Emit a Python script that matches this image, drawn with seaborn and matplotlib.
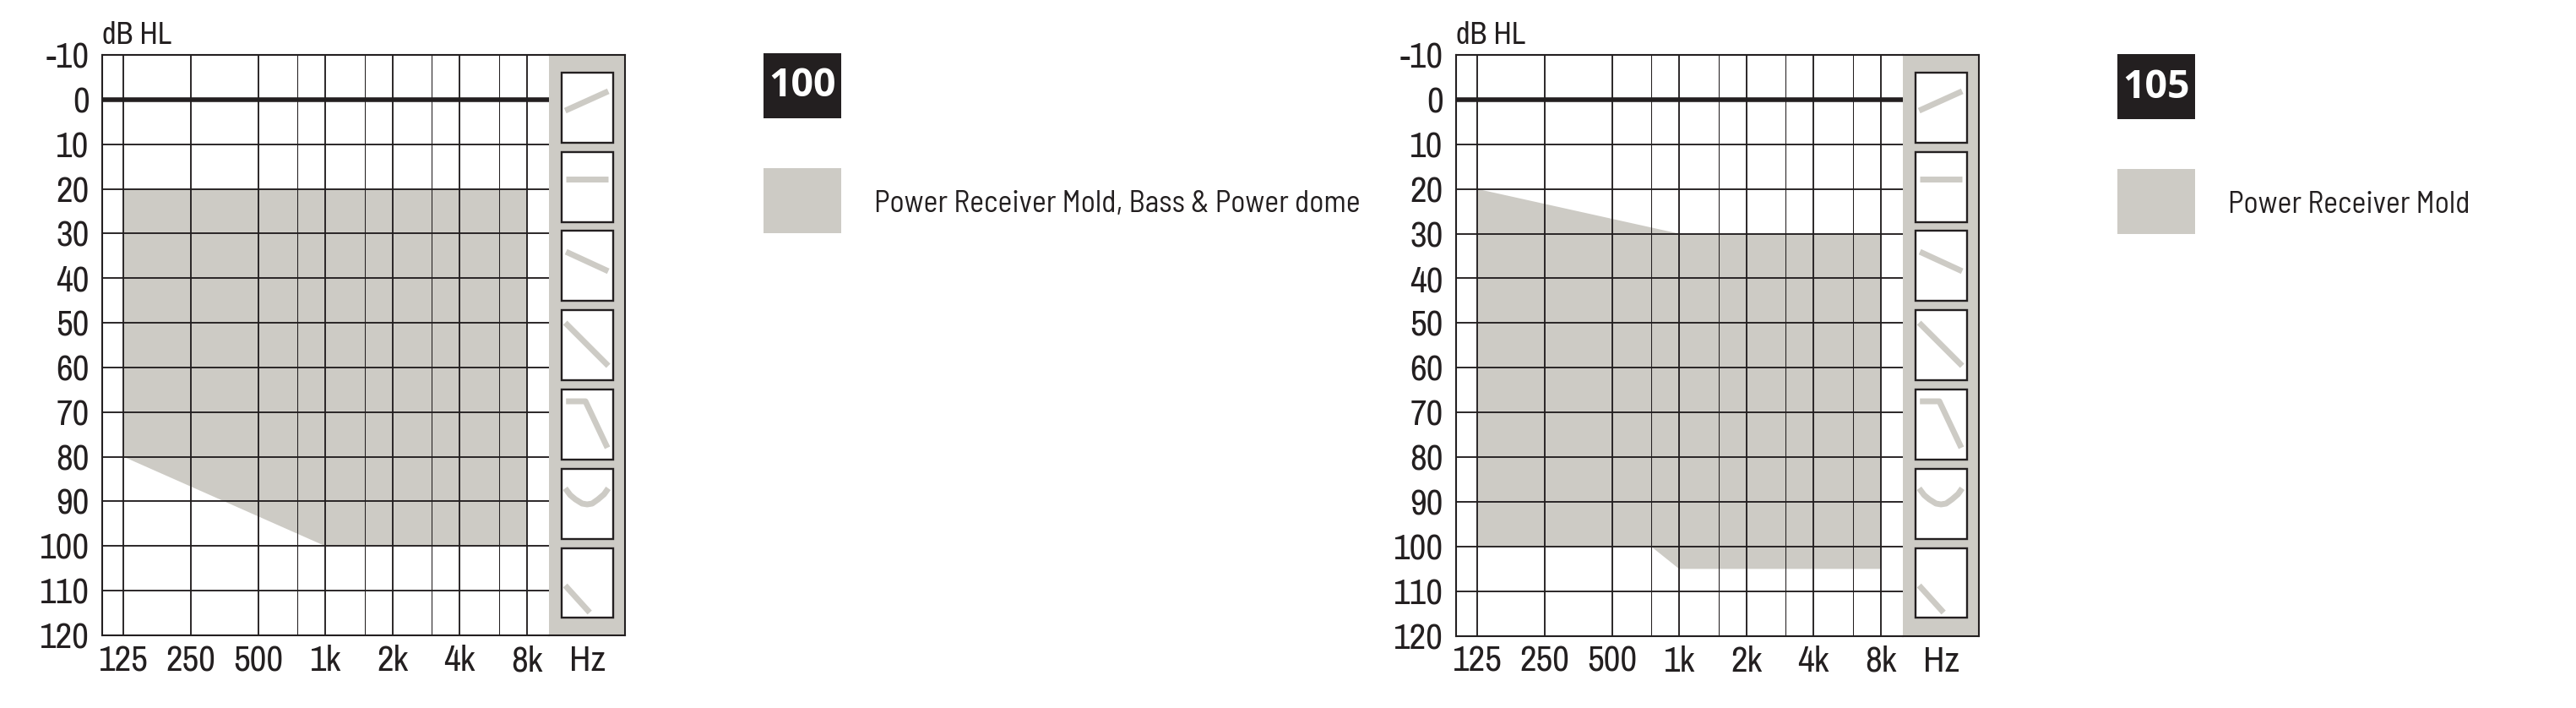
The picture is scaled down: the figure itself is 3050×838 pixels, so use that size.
import matplotlib
matplotlib.use("Agg")
import matplotlib.pyplot as plt
from matplotlib.patches import Rectangle
from matplotlib.ticker import NullFormatter
import pandas as pd
import seaborn as sns

W, H = 3050, 838
INK = "#231f20"
GREY = "#cdcbc5"

# ---- data ----
db_ticks = [-10, 0, 10, 20, 30, 40, 50, 60, 70, 80, 90, 100, 110, 120]
octave_freqs = [125, 250, 500, 1000, 2000, 4000, 8000]
octave_labels = ["125", "250", "500", "1k", "2k", "4k", "8k"]
interoctave_freqs = [750, 1500, 3000, 6000]

upper_freq_100 = [125, 1000, 8000]
upper_db_100 = [20, 20, 20]
lower_freq_100 = [125, 1000, 8000]
lower_db_100 = [80, 100, 100]

upper_freq_105 = [125, 1000, 8000]
upper_db_105 = [20, 30, 30]
lower_freq_105 = [125, 750, 1000, 8000]
lower_db_105 = [100, 100, 105, 105]

badge_100 = "100"
badge_105 = "105"
legend_100 = "Power Receiver Mold, Bass & Power dome"
legend_105 = "Power Receiver Mold"

# audiogram-shape icons, in pixels from the top-left of the side strip
icon_boxes = [(21, 104), (115, 198), (208, 291), (302, 385), (396, 479), (490, 573), (584, 666)]
icon_x = [
    [19, 70], [20, 70], [20, 70], [19, 70], [20, 43, 69],
    [19, 25, 31, 39, 45, 51, 58, 65, 70], [19, 48],
]
icon_y = [
    [66, 43], [147, 147], [233, 256], [317, 368], [410, 410, 465],
    [513, 521, 526, 531, 532, 531, 526, 520, 513], [628, 660],
]

sns.set_theme(style="white")
NARROW = ["Archivo Narrow", "Roboto Condensed", "Liberation Sans", "DejaVu Sans"]
KEYFONT = ["Barlow Semi Condensed", "Open Sans", "DejaVu Sans"]
BADGEFONT = ["Open Sans", "DejaVu Sans"]

fig = plt.figure(figsize=(W / 100, H / 100), dpi=100, facecolor="white")


def px_axes(x0, x1, y0, y1, **kw):
    return fig.add_axes([x0 / W, 1 - y1 / H, (x1 - x0) / W, (y1 - y0) / H], **kw)


def audiogram(left, right, strip_right, top, bottom, p125, p8k,
              up_f, up_db, lo_f, lo_db):
    ax = px_axes(left, right, top, bottom)
    per_oct = (p8k - p125) / 6
    ax.set_xscale("log", base=2)
    ax.set_xlim(125 * 2 ** (-(p125 - left) / per_oct), 8000 * 2 ** ((right - p8k) / per_oct))
    ax.set_ylim(120, -10)
    ax.set_yticks(db_ticks)
    ax.set_yticklabels([str(d) for d in db_ticks], family=NARROW, fontsize=31, color=INK)
    ax.set_xticks(octave_freqs)
    ax.set_xticklabels(octave_labels, family=NARROW, fontsize=31, color=INK)
    ax.set_xticks(interoctave_freqs, minor=True)
    ax.xaxis.set_minor_formatter(NullFormatter())
    ax.tick_params(axis="both", which="both", length=0)
    ax.tick_params(axis="y", pad=11)
    ax.tick_params(axis="x", pad=8)
    ax.set_axisbelow(False)
    ax.grid(True, which="major", axis="both", color=INK, lw=1.35)
    ax.grid(True, which="minor", axis="x", color=INK, lw=0.75)
    ax.fill(list(up_f) + list(lo_f)[::-1], list(up_db) + list(lo_db)[::-1],
            color=GREY, lw=0, zorder=1)
    zero = pd.DataFrame({"f": [octave_freqs[0] / 2, octave_freqs[-1] * 2], "db": [0, 0]})
    sns.lineplot(data=zero, x="f", y="db", ax=ax, color=INK, lw=4.0, zorder=3,
                 estimator=None, legend=False)
    ax.set_xlabel("")
    ax.set_ylabel("")
    for s in ("left", "top", "bottom"):
        ax.spines[s].set_visible(True)
        ax.spines[s].set_color(INK)
        ax.spines[s].set_linewidth(1.5)
    ax.spines["right"].set_visible(False)
    ax.text(0, 1 + 7 / (bottom - top), "dB HL", transform=ax.transAxes, ha="left", va="bottom",
            family=NARROW, fontsize=26, color=INK)

    st = px_axes(right, strip_right, top, bottom)
    st.set_facecolor(GREY)
    for s in ("top", "right", "bottom"):
        st.spines[s].set_visible(True)
        st.spines[s].set_color(INK)
        st.spines[s].set_linewidth(1.5)
    st.spines["left"].set_visible(False)
    for (b0, b1), ix, iy in zip(icon_boxes, icon_x, icon_y):
        st.add_patch(Rectangle((14.5, b0), 61, b1 - b0, fc="white", ec=INK, lw=1.7, zorder=2))
        d = pd.DataFrame({"x": ix, "y": iy})
        sns.lineplot(data=d, x="x", y="y", ax=st, color=GREY, lw=5, sort=False,
                     estimator=None, legend=False, zorder=3,
                     solid_capstyle="butt", solid_joinstyle="round")
    st.set_xlabel("")
    st.set_ylabel("")
    st.set_xlim(0, strip_right - right)
    st.set_ylim(bottom - top, 0)
    st.set_yticks([])
    st.set_xticks([(strip_right - right) / 2])
    st.set_xticklabels(["Hz"], family=NARROW, fontsize=31, color=INK)
    st.tick_params(axis="x", length=0, pad=8)


audiogram(120.9, 650.2, 740.3, 65, 752, 146.3, 623.9,
          upper_freq_100, upper_db_100, lower_freq_100, lower_db_100)
audiogram(1723.9, 2253.2, 2343.3, 65, 752.7, 1749.3, 2226.9,
          upper_freq_105, upper_db_105, lower_freq_105, lower_db_105)

# overlay in pixel coordinates for badges and legends
ov = px_axes(0, W, 0, H)
ov.set_xlim(0, W)
ov.set_ylim(H, 0)
ov.axis("off")
ov.patch.set_alpha(0)


def key(x0, x1, y0, text_x, badge, label, size):
    ov.add_patch(Rectangle((x0, y0), x1 - x0, 77, fc=INK, ec="none"))
    ov.add_patch(Rectangle((x0, y0 + 136), x1 - x0, 77, fc=GREY, ec="none"))
    ov.text((x0 + x1) / 2, y0 + 39, badge, color="white", ha="center", va="center",
            family=BADGEFONT, weight="bold", fontsize=33.5)
    ov.text(text_x, y0 + 175, label, color=INK, ha="left", va="center_baseline",
            family=KEYFONT, fontsize=size)


key(904, 996, 63, 1035, badge_100, legend_100, 25.8)
key(2507, 2599, 64, 2638, badge_105, legend_105, 25.8)

fig.savefig("out.png", dpi=100, facecolor="white")
